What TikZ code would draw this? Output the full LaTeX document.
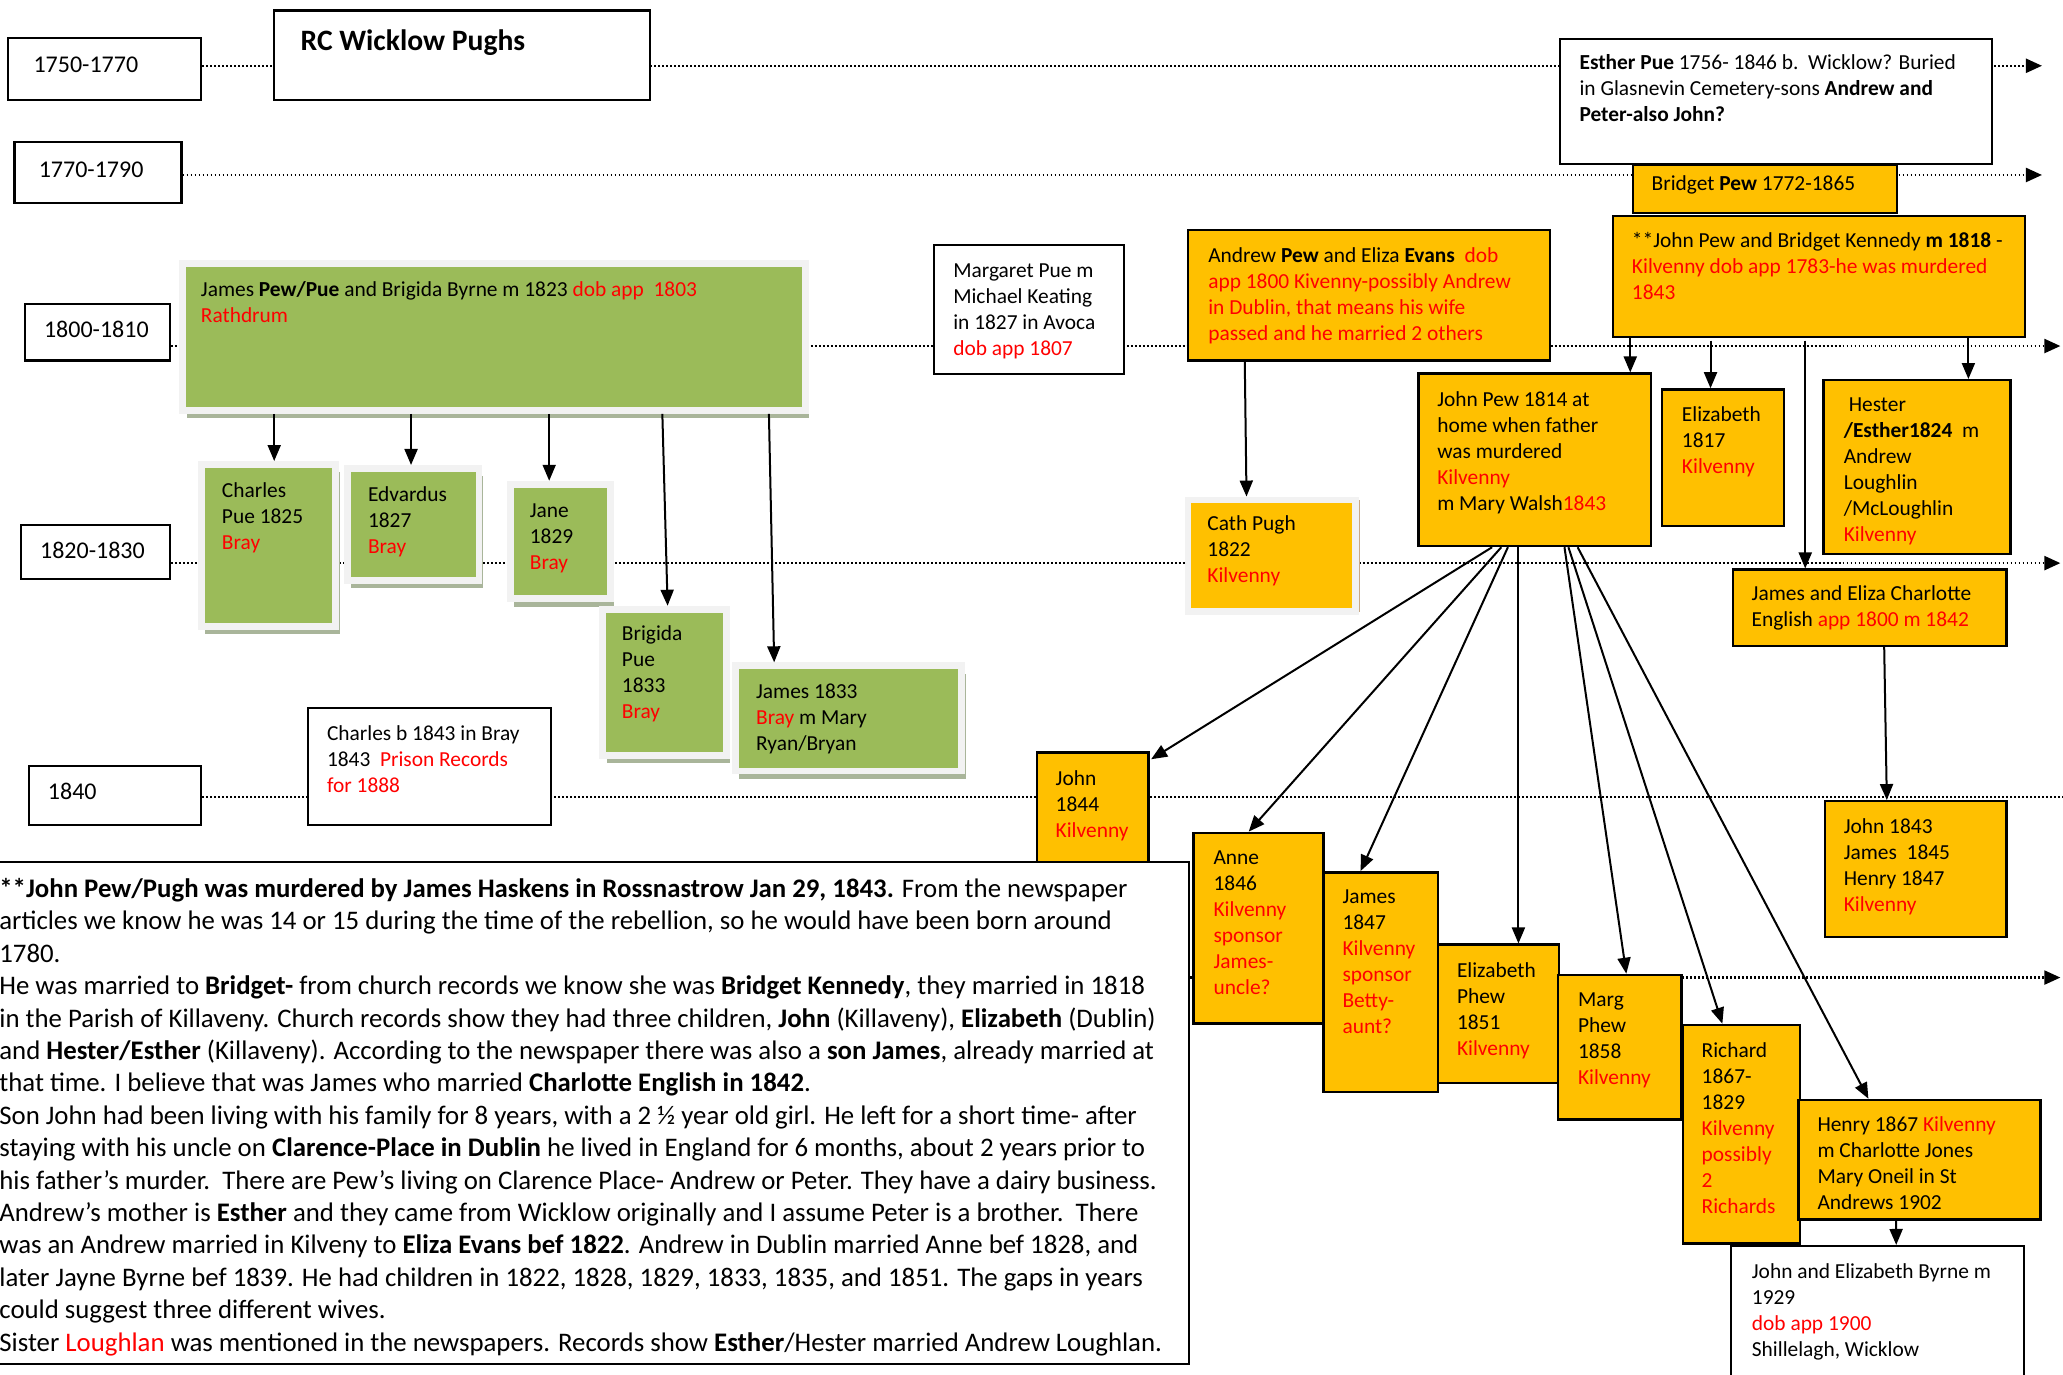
\documentclass[tikz,border=0pt]{standalone}
\usepackage{fontspec}
\setmainfont{Carlito}
\usetikzlibrary{positioning, calc, fit, shadows, arrows.meta}
\definecolor{pughorange}{HTML}{FFC000}
\definecolor{pughgreen}{HTML}{9BBB59}
\definecolor{framegray}{HTML}{F2F2F2}
\definecolor{shadowgreen}{HTML}{A9B59A}
\definecolor{shadowtan}{HTML}{C9A886}
\definecolor{recred}{HTML}{FF0000}
\newcommand{\rd}[1]{\textcolor{recred}{#1}}

\begin{document}
\begin{tikzpicture}[x=0.6579pt, y=-0.6579pt]
    \tikzstyle{period} = [draw, line width=1.1pt, fill=white, inner sep=0];
    \tikzstyle{periodtxt} = [anchor=west, inner sep=0, font=\fontsize{12}{14}\selectfont];
    \tikzstyle{famwhite} = [draw, line width=1pt, fill=white, inner sep=0];
    \tikzstyle{famorange} = [draw, line width=1.2pt, fill=pughorange, inner sep=0];
    \tikzstyle{famgreen} = [draw=framegray, line width=3.4pt, fill=pughgreen, inner sep=0,
        drop shadow={shadow xshift=2pt, shadow yshift=-4pt, fill=shadowgreen, opacity=1}];
    \tikzstyle{framedorange} = [draw=framegray, line width=3.4pt, fill=pughorange, inner sep=0,
        drop shadow={shadow xshift=2.2pt, shadow yshift=0pt, fill=shadowtan, opacity=1}];
    \tikzstyle{txt} = [anchor=north west, align=left, inner sep=0, font=\fontsize{10.7}{13}\selectfont];
    \tikzstyle{timeline} = [line width=1.1pt, dash pattern=on 0.9pt off 1.1pt];
    \tikzstyle{arr} = [line width=1pt, -{Triangle[length=8pt, width=6.5pt]}];

    \useasboundingbox (0,0) rectangle (1568,1045);
    \clip (0,0) rectangle (1568,1045);

    \node[period, fit={(6,29) (153,76)}] (t1) {};
    \node[period, fit={(11,108) (138,154)}] (t2) {};
    \node[period, fit={(19,231) (129,274)}] (t3) {};
    \node[period, fit={(16,399) (129,440)}] (t4) {};
    \node[period, fit={(22,582) (153,627)}] (t5) {};
    \node[periodtxt] (t1t) at ($(t1.west)+(20,-3)$) {1750-1770};
    \node[periodtxt] (t2t) at ($(t2.west)+(19,-2)$) {1770-1790};
    \node[periodtxt] (t3t) at ($(t3.west)+(15,-2)$) {1800-1810};
    \node[periodtxt] (t4t) at ($(t4.west)+(15,-1)$) {1820-1830};
    \node[periodtxt] (t5t) at ($(t5.west)+(15,-3)$) {1840};

    \node[famwhite, fit={(-1,655) (904,1037)}] (notes) {};

    \coordinate (r1end) at (1552,50);
    \coordinate (r2end) at (1552,133);
    \coordinate (r3end) at (1566,263);
    \coordinate (r4end) at (1566,428);
    \coordinate (r5end) at (1570,606);
    \coordinate (r6end) at (1566,743);
    \draw[timeline, -{Triangle[length=8pt, width=7pt]}] (t1.east |- r1end) -- (r1end);
    \draw[timeline, -{Triangle[length=8pt, width=7pt]}] (t2.east |- r2end) -- (r2end);
    \draw[timeline, -{Triangle[length=8pt, width=7pt]}] (t3.east |- r3end) -- (r3end);
    \draw[timeline, -{Triangle[length=8pt, width=7pt]}] (t4.east |- r4end) -- (r4end);
    \draw[timeline] (t5.east |- r5end) -- (r5end);
    \draw[timeline, -{Triangle[length=8pt, width=7pt]}] (notes.east |- r6end) -- (r6end);

    \node[famwhite, line width=1.1pt, fit={(208,8) (494,76)}] (title) {};
    \node[txt, font=\fontsize{14.8}{17}\selectfont\bfseries] (titlet) at ($(title.north west)+(21,15)$) {RC Wicklow Pughs};

    \node[famwhite, fit={(1186,30) (1514,125)}] (esther) {};
    \node[txt] (esthert) at ($(esther.north west)+(15,12)$) {\textbf{Esther Pue} 1756- 1846 b.\ \ Wicklow? Buried\\ in Glasnevin Cemetery-sons \textbf{Andrew and}\\ \textbf{Peter-also John?}};
    \node[famorange, fit={(1241,125) (1442,162)}] (bridget) {};
    \node[txt] (bridgett) at ($(bridget.north west)+(15,9)$) {Bridget \textbf{Pew} 1772-1865};
    \node[famorange, fit={(1226,164) (1539,256)}] (jpbk) {};
    \node[txt] (jpbkt) at ($(jpbk.north west)+(15,13)$) {**John Pew and Bridget Kennedy \textbf{m 1818} -\\ \rd{Kilvenny dob app 1783-he was murdered}\\ \rd{1843}};

    \node[famgreen, fit={(139,200) (612,312)}] (parent) {};
    \node[txt] (parentt) at ($(parent.north west)+(16,16)$) {James \textbf{Pew/Pue} and Brigida Byrne m 1823 \rd{dob app\ \ 1803}\\ \rd{Rathdrum}};
    \node[famgreen, fit={(153,353) (255,476)}] (charles) {};
    \node[txt] (charlest) at ($(charles.north west)+(18,16)$) {Charles\\ Pue 1825\\ \rd{Bray}};
    \node[famgreen, fit={(264,356) (364,441)}] (edvardus) {};
    \node[txt] (edvardust) at ($(edvardus.north west)+(18,16)$) {Edvardus\\ 1827\\ \rd{Bray}};
    \node[famgreen, fit={(388,368) (464,455)}] (jane) {};
    \node[txt] (janet) at ($(jane.north west)+(17,17)$) {Jane\\ 1829\\ \rd{Bray}};
    \node[famgreen, fit={(458,463) (552,574)}] (brigida) {};
    \node[txt] (brigidat) at ($(brigida.north west)+(17,15)$) {Brigida\\ Pue\\ 1833\\ \rd{Bray}};
    \node[famgreen, fit={(559,506) (731,586)}] (james33) {};
    \node[txt] (james33t) at ($(james33.north west)+(18,16)$) {James 1833\\ \rd{Bray} m Mary\\ Ryan/Bryan};

    \node[famwhite, fit={(710,186) (854,284)}] (margaret) {};
    \node[txt] (margarett) at ($(margaret.north west)+(15,15)$) {Margaret Pue m\\ Michael Keating\\ in 1827 in Avoca\\ \rd{dob app 1807}};
    \node[famwhite, fit={(234,538) (419,627)}] (charles43) {};
    \node[txt] (charles43t) at ($(charles43.north west)+(15,14)$) {Charles b 1843 in Bray\\ 1843\ \ \rd{Prison Records}\\ \rd{for 1888}};

    \node[famorange, fit={(903,175) (1178,274)}] (andrew) {};
    \node[txt] (andrewt) at ($(andrew.north west)+(16,14)$) {Andrew \textbf{Pew} and Eliza \textbf{Evans}\ \ \rd{dob}\\ \rd{app 1800 Kivenny-possibly Andrew}\\ \rd{in Dublin, that means his wife}\\ \rd{passed and he married 2 others}};
    \node[framedorange, fit={(903,380) (1030,465)}] (cath) {};
    \node[txt] (catht) at ($(cath.north west)+(17,14)$) {Cath Pugh\\ 1822\\ \rd{Kilvenny}};

    \node[famorange, fit={(1078,284) (1255,415)}] (john14) {};
    \node[txt] (john14t) at ($(john14.north west)+(15,14)$) {John Pew 1814 at\\ home when father\\ was murdered\\ \rd{Kilvenny}\\ m Mary Walsh\rd{1843}};
    \node[famorange, fit={(1263,296) (1356,400)}] (eliz17) {};
    \node[txt] (eliz17t) at ($(eliz17.north west)+(16,14)$) {Elizabeth\\ 1817\\ \rd{Kilvenny}};
    \node[famorange, fit={(1386,289) (1528,421)}] (hester) {};
    \node[txt] (hestert) at ($(hester.north west)+(16,14)$) {\hspace{2.5pt}Hester\\ \textbf{/Esther1824}\ \ m\\ Andrew\\ Loughlin\\ /McLoughlin\\ \rd{Kilvenny}};
    \node[famorange, fit={(1317,433) (1525,491)}] (jameseliza) {};
    \node[txt] (jameselizat) at ($(jameseliza.north west)+(15,13)$) {James and Eliza Charlotte\\ English \rd{app 1800 m 1842}};
    \node[famorange, fit={(1387,609) (1525,712)}] (john43) {};
    \node[txt] (john43t) at ($(john43.north west)+(15,14)$) {John 1843\\ James\ \ 1845\\ Henry 1847\\ \rd{Kilvenny}};

    \node[famorange, fit={(788,572) (873,655)}] (john44) {};
    \node[txt] (john44t) at ($(john44.north west)+(15,14)$) {John\\ 1844\\ \rd{Kilvenny}};
    \node[famorange, fit={(907,633) (1006,778)}] (anne) {};
    \node[txt] (annet) at ($(anne.north west)+(16,14)$) {Anne\\ 1846\\ \rd{Kilvenny}\\ \rd{sponsor}\\ \rd{James-}\\ \rd{uncle?}};
    \node[famorange, fit={(1006,663) (1093,830)}] (james47) {};
    \node[txt] (james47t) at ($(james47.north west)+(15,14)$) {James\\ 1847\\ \rd{Kilvenny}\\ \rd{sponsor}\\ \rd{Betty-}\\ \rd{aunt?}};
    \node[famorange, fit={(1093,718) (1185,823)}] (eliz51) {};
    \node[txt] (eliz51t) at ($(eliz51.north west)+(15,14)$) {Elizabeth\\ Phew\\ 1851\\ \rd{Kilvenny}};
    \node[famorange, fit={(1184,741) (1278,851)}] (marg) {};
    \node[txt] (margt) at ($(marg.north west)+(16,14)$) {Marg\\ Phew\\ 1858\\ \rd{Kilvenny}};
    \node[famorange, fit={(1279,779) (1368,945)}] (richard) {};
    \node[txt] (richardt) at ($(richard.north west)+(15,14)$) {Richard\\ 1867-\\ 1829\\ \rd{Kilvenny}\\ \rd{possibly}\\ \rd{2}\\ \rd{Richards}};
    \node[famorange, fit={(1367,836) (1551,927)}] (henry) {};
    \node[txt] (henryt) at ($(henry.north west)+(15,13)$) {Henry 1867 \rd{Kilvenny}\\ m Charlotte Jones\\ Mary Oneil in St\\ Andrews 1902};
    \node[famwhite, fit={(1316,947) (1538,1070)}] (byrne) {};
    \node[txt] (byrnet) at ($(byrne.north west)+(16,14)$) {John and Elizabeth Byrne m\\ 1929\\ \rd{dob app 1900}\\ Shillelagh, Wicklow};

    \node[txt, font=\fontsize{13.4}{16.2}\selectfont] (notest) at ($(notes.north west)+(1,13)$) {\textbf{**John Pew/Pugh was murdered by James Haskens in Rossnastrow Jan 29, 1843.} From the newspaper\\
        articles we know he was 14 or 15 during the time of the rebellion, so he would have been born around\\
        1780.\\
        He was married to \textbf{Bridget-} from church records we know she was \textbf{Bridget Kennedy}, they married in 1818\\
        in the Parish of Killaveny. Church records show they had three children, \textbf{John} (Killaveny), \textbf{Elizabeth} (Dublin)\\
        and \textbf{Hester/Esther} (Killaveny). According to the newspaper there was also a \textbf{son James}, already married at\\
        that time. I believe that was James who married \textbf{Charlotte English in 1842}.\\
        Son John had been living with his family for 8 years, with a 2 ½ year old girl. He left for a short time- after\\
        staying with his uncle on \textbf{Clarence-Place in Dublin} he lived in England for 6 months, about 2 years prior to\\
        his father’s murder.\ \ There are Pew’s living on Clarence Place- Andrew or Peter. They have a dairy business.\\
        Andrew’s mother is \textbf{Esther} and they came from Wicklow originally and I assume Peter is a brother.\ \ There\\
        was an Andrew married in Kilveny to \textbf{Eliza Evans bef 1822}. Andrew in Dublin married Anne bef 1828, and\\
        later Jayne Byrne bef 1839. He had children in 1822, 1828, 1829, 1833, 1835, and 1851. The gaps in years\\
        could suggest three different wives.\\
        Sister \rd{Loughlan} was mentioned in the newspapers. Records show \textbf{Esther}/Hester married Andrew Loughlan.};

    \draw[arr] ($(parent.south west)+(72,0)$) -- ($(charles.north west)+(58,0)$);
    \draw[arr] ($(parent.south west)+(176,0)$) -- ($(edvardus.north west)+(51,0)$);
    \draw[arr] ($(parent.south west)+(281,0)$) -- ($(jane.north west)+(32,0)$);
    \draw[arr] ($(parent.south west)+(367,0)$) -- ($(brigida.north west)+(52,0)$);
    \draw[arr] ($(parent.south west)+(448,0)$) -- ($(james33.north west)+(32,0)$);

    \draw[arr] ($(jpbk.south west)+(14,0)$) -- ($(john14.north west)+(162,0)$);
    \draw[arr] ($(jpbk.south west)+(75,2)$) -- ($(eliz17.north west)+(38,0)$);
    \draw[arr] ($(jpbk.south west)+(147,2)$) -- ($(jameseliza.north west)+(56,0)$);
    \draw[arr] ($(jpbk.south west)+(271,0)$) -- ($(hester.north west)+(111,0)$);

    \draw[arr] ($(jameseliza.south west)+(116,0)$) -- ($(john43.north west)+(48,0)$);
    \draw[arr] ($(henry.south west)+(75,0)$) -- ($(byrne.north west)+(126,0)$);
    \draw[arr] ($(andrew.south west)+(44,0)$) -- ($(cath.north west)+(47,0)$);

    \draw[arr] ($(john14.south west)+(57,0)$) -- ($(john44.north east)+(1,6)$);
    \draw[arr] ($(john14.south west)+(64,0)$) -- ($(anne.north west)+(43,0)$);
    \draw[arr] ($(john14.south west)+(69,0)$) -- ($(james47.north west)+(29,0)$);
    \draw[arr] ($(john14.south west)+(77,0)$) -- ($(eliz51.north west)+(62,0)$);
    \draw[arr] ($(john14.south west)+(112,0)$) -- ($(marg.north west)+(53,0)$);
    \draw[arr] ($(john14.south west)+(115,0)$) -- ($(richard.north west)+(31,0)$);
    \draw[arr] ($(john14.south west)+(122,0)$) -- ($(henry.north west)+(54,0)$);
\end{tikzpicture}
\end{document}
